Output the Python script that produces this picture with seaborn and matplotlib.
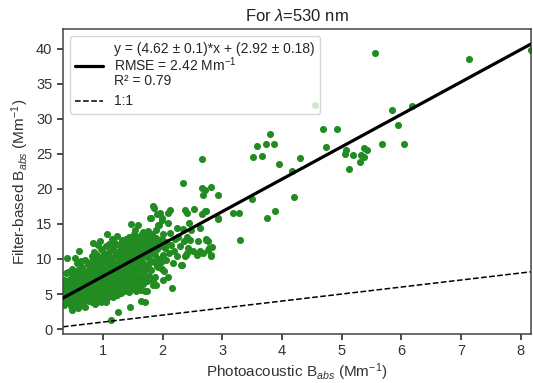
import matplotlib
matplotlib.use("Agg")
import matplotlib.pyplot as plt
import seaborn as sns
import pandas as pd

# ---- data (photoacoustic, filter-based) ----
band_a = [(0.34,3.5),(0.35,4.2),(0.36,5.0),(0.35,5.6),(0.37,6.3),(0.34,7.0),(0.38,8.0),(0.39,10.2),
          (0.36,4.7),(0.40,3.9),(0.41,5.3),(0.42,6.0),(0.41,8.1),(0.43,4.4),(0.44,7.2),(0.45,5.8),
          (0.46,3.3),(0.47,2.75),(0.46,6.6),(0.48,4.9),(0.49,7.7),(0.47,5.2),(0.45,4.0),(0.50,6.2),
          (0.43,6.8),(0.39,4.6),(0.50,3.8),(0.44,5.5),(0.38,5.9),(0.48,8.6)]
band_b = [(0.52,4.3),(0.53,5.0),(0.53,10.2),(0.53,8.1),(0.54,6.1),(0.55,3.6),(0.55,7.0),(0.56,4.8),
          (0.57,5.7),(0.58,6.6),(0.58,8.4),(0.59,11.1),(0.59,4.1),(0.60,3.3),(0.61,5.3),(0.62,7.4),
          (0.62,6.0),(0.63,4.5),(0.64,8.9),(0.64,5.1),(0.65,6.8),(0.66,3.9),(0.66,7.8),(0.67,3.7),
          (0.67,5.6),(0.68,4.6),(0.68,6.3),(0.69,9.9),(0.69,7.1),(0.70,5.0),(0.70,3.2),(0.71,8.2),
          (0.72,4.2),(0.72,6.5),(0.73,5.4),(0.73,7.6),(0.74,9.3),(0.75,4.8),(0.75,6.0),(0.76,7.0),
          (0.76,5.2),(0.77,8.5),(0.77,4.0),(0.78,6.7),(0.78,5.7),(0.79,7.4),(0.79,9.6),(0.80,4.5),
          (0.80,6.2),(0.56,9.4),(0.60,8.0),(0.63,9.7),(0.51,7.3),(0.57,3.0),(0.61,4.7)]
band_c = [(0.81,5.3),(0.81,8.0),(0.82,10.4),(0.82,3.9),(0.83,6.8),(0.83,7.6),(0.84,4.9),(0.84,9.1),
          (0.85,5.9),(0.85,11.0),(0.86,7.2),(0.86,4.3),(0.87,6.3),(0.87,8.6),(0.88,5.5),(0.88,9.8),
          (0.89,7.9),(0.89,4.8),(0.90,6.7),(0.90,10.6),(0.91,5.1),(0.91,8.3),(0.92,7.0),(0.92,12.0),
          (0.93,6.0),(0.93,9.3),(0.94,12.5),(0.94,4.5),(0.95,7.5),(0.95,8.9),(0.96,5.7),(0.96,10.1),
          (0.97,6.5),(0.97,11.4),(0.98,4.2),(0.98,8.1),(0.99,7.3),(0.99,9.6),(1.00,5.2),(1.00,6.8),
          (1.01,10.9),(1.01,8.5),(1.02,4.7),(1.02,7.7),(1.03,6.2),(1.03,9.9),(1.04,5.6),(1.04,11.8),
          (1.05,8.0),(1.05,7.1),(1.06,13.5),(1.06,4.4),(1.07,9.4),(1.07,6.6),(1.08,10.5),(1.08,5.3),
          (1.09,8.7),(1.09,7.4),(1.10,12.2),(1.10,6.0),(0.83,12.3),(0.87,3.6),(0.96,3.9),(1.04,3.8)]
band_d = [(1.11,5.0),(1.11,9.1),(1.12,7.8),(1.12,11.2),(1.13,6.4),(1.13,1.3),(1.14,8.4),(1.14,10.0),
          (1.15,5.7),(1.15,12.8),(1.16,7.1),(1.16,9.6),(1.17,4.6),(1.17,11.5),(1.18,8.0),(1.18,6.7),
          (1.19,10.3),(1.19,5.4),(1.20,7.5),(1.20,12.3),(1.21,9.0),(1.21,6.1),(1.22,10.8),(1.22,8.6),
          (1.23,4.9),(1.23,13.3),(1.24,7.2),(1.24,11.0),(1.25,2.4),(1.25,9.4),(1.26,6.5),(1.26,8.2),
          (1.27,12.0),(1.27,5.6),(1.28,10.1),(1.28,7.7),(1.29,9.7),(1.29,6.9),(1.30,11.6),(1.30,5.1),
          (1.31,8.9),(1.31,12.7),(1.32,7.4),(1.32,10.4),(1.33,6.2),(1.33,9.2),(1.34,11.1),(1.34,8.0),
          (1.35,5.5),(1.35,12.4),(1.36,7.0),(1.36,10.0),(1.37,9.0),(1.37,6.7),(1.38,11.7),(1.38,8.5),
          (1.39,12.9),(1.39,5.9),(1.40,10.6),(1.40,7.6)]
band_e = [(1.41,9.5),(1.41,6.4),(1.42,11.3),(1.42,8.3),(1.43,13.2),(1.43,7.1),(1.44,10.2),(1.44,5.3),
          (1.45,3.2),(1.45,12.1),(1.46,15.0),(1.46,8.9),(1.47,6.8),(1.47,10.9),(1.48,9.6),(1.48,12.6),
          (1.49,7.6),(1.49,5.9),(1.50,11.5),(1.50,8.1),(1.51,13.6),(1.51,10.0),(1.52,6.3),(1.52,9.1),
          (1.53,12.0),(1.53,7.3),(1.54,11.0),(1.54,8.7),(1.55,5.5),(1.55,13.0),(1.56,10.4),(1.56,7.9),
          (1.57,9.3),(1.57,12.4),(1.58,14.9),(1.58,6.7),(1.59,11.3),(1.59,8.4),(1.60,10.7),(1.60,7.0),
          (1.61,12.8),(1.61,9.8),(1.62,5.8),(1.62,11.9),(1.63,8.8),(1.63,13.4),(1.64,4.0),(1.64,10.1),
          (1.65,7.5),(1.65,12.2),(1.66,9.4),(1.66,6.4),(1.67,11.0),(1.67,13.8),(1.68,8.2),(1.68,10.6),
          (1.69,7.2),(1.69,12.6),(1.70,9.0),(1.70,5.4),(1.63,5.6),(1.53,14.2)]
band_f = [(1.70,3.9),(1.71,11.5),(1.72,8.6),(1.72,13.1),(1.73,10.3),(1.74,6.8),(1.74,5.4),(1.75,12.0),
          (1.75,9.2),(1.76,14.0),(1.77,7.6),(1.77,11.0),(1.78,15.8),(1.78,9.9),(1.79,12.7),(1.80,15.8),
          (1.80,8.4),(1.81,10.8),(1.82,13.5),(1.82,7.1),(1.83,11.6),(1.84,6.8),(1.84,6.3),(1.84,17.5),
          (1.85,17.3),(1.85,9.6),(1.86,12.2),(1.87,7.5),(1.87,10.5),(1.88,13.0),(1.89,6.3),(1.89,14.2),
          (1.90,9.0),(1.91,16.4),(1.91,11.4),(1.92,8.9),(1.92,14.9),(1.93,12.6),(1.93,14.9),(1.94,10.0),
          (1.95,16.6),(1.96,11.9),(1.97,9.5),(1.98,15.6),(1.98,8.5),(1.98,15.8),(1.99,12.8),(2.00,13.5),
          (2.00,10.6)]
band_g = [(2.01,7.0),(2.02,8.3),(2.04,11.5),(2.05,12.4),(2.06,9.8),(2.08,16.5),(2.09,15.1),(2.09,7.5),
          (2.10,10.9),(2.12,17.0),(2.12,13.7),(2.14,12.0),(2.16,5.8),(2.17,9.4),(2.18,11.2),(2.20,12.9),
          (2.23,14.4),(2.24,10.4),(2.26,13.2),(2.28,11.9),(2.31,9.2),(2.32,9.2),(2.34,20.8),(2.34,14.3),
          (2.35,12.5),(2.37,10.4),(2.38,17.0),(2.39,10.5),(2.40,16.5),(2.40,10.8),(2.41,13.2),(2.43,11.6),
          (2.44,15.1),(2.45,12.7)]
band_h = [(2.48,14.1),(2.51,11.1),(2.53,17.1),(2.57,10.5),(2.59,12.5),(2.61,10.8),(2.62,11.2),(2.62,14.4),
          (2.65,16.4),(2.65,24.2),(2.66,20.1),(2.67,19.1),(2.68,10.8),(2.70,19.8),(2.71,16.8),(2.72,16.9),
          (2.73,12.9),(2.73,12.7),(2.75,12.6),(2.76,11.3),(2.77,11.6),(2.80,20.2),(2.80,10.4),(2.81,10.5),
          (2.82,11.7),(2.93,19.1),(2.93,15.7),(2.92,15.8)]
band_high = [(3.17,16.6),(3.27,16.5),(3.29,12.7),(3.50,18.6),(3.51,24.5),(3.58,26.1),(3.66,24.7),
             (3.73,26.4),(3.74,15.9),(3.79,27.9),(3.87,26.4),(3.88,16.8),(3.94,23.6),(4.17,22.6),
             (4.20,18.8),(4.30,24.4),(4.55,32.0),(4.69,28.6),(4.73,26.0),(4.92,28.6),(5.05,25.0),
             (5.07,25.5),(5.12,22.9),(5.18,24.9),(5.31,23.8),(5.33,24.9),(5.37,24.5),(5.38,25.8),
             (5.43,25.5),(5.55,39.4),(5.68,26.4),(5.85,31.2),(5.94,29.1),(6.05,26.4),(6.18,31.9),
             (7.13,38.5),(8.17,39.8)]

fit_slope = 4.62
fit_intercept = 2.92
fit_label = ("y = (4.62 ± 0.1)*x + (2.92 ± 0.18)\n"
             "RMSE = 2.42 Mm$^{-1}$\n"
             "R² = 0.79")
one_to_one_label = "1:1"
title = "For $\\lambda$=530 nm"
xlabel = "Photoacoustic B$_{abs}$ (Mm$^{-1}$)"
ylabel = "Filter-based B$_{abs}$ (Mm$^{-1}$)"
x_ticks = [1, 2, 3, 4, 5, 6, 7, 8]
y_ticks = [0, 5, 10, 15, 20, 25, 30, 35, 40]

all_pts = band_a + band_b + band_c + band_d + band_e + band_f + band_g + band_h + band_high
df = pd.DataFrame(all_pts, columns=["pa", "fb"])

sns.set_theme(style="ticks")
plt.rcParams["font.family"] = ["Liberation Sans", "DejaVu Sans"]
plt.rcParams["mathtext.fontset"] = "custom"
plt.rcParams["mathtext.rm"] = "Liberation Sans"
plt.rcParams["mathtext.it"] = "Liberation Sans:italic"
plt.rcParams["mathtext.bf"] = "Liberation Sans:bold"

fig = plt.figure(figsize=(5.33, 3.83), dpi=100)
ax = fig.add_axes([0.118, 0.128, 0.878, 0.796])

sns.scatterplot(data=df, x="pa", y="fb", color="forestgreen", s=26, linewidth=0,
                alpha=1.0, ax=ax, legend=False, zorder=1)
ax.axline((0, fit_intercept), slope=fit_slope, color="black", lw=2.3, label=fit_label, zorder=3)
ax.axline((0, 0), slope=1, color="black", lw=1.1, ls="--", label=one_to_one_label, zorder=2)

ax.set_xlim(0.325, 8.17)
ax.set_ylim(-0.7, 42.8)
ax.set_xticks(x_ticks)
ax.set_yticks(y_ticks)
ax.tick_params(labelsize=10.5, colors="#333333", length=4)
for s in ax.spines.values():
    s.set_color("#444444")
    s.set_linewidth(1.1)
ax.set_xlabel(xlabel, fontsize=11, color="#333333", labelpad=2)
ax.set_ylabel(ylabel, fontsize=11, color="#333333")
ax.set_title(title, fontsize=12, color="#222222")
leg = ax.legend(loc="upper left", fontsize=10, frameon=True, framealpha=0.8,
                handlelength=2.0, labelspacing=0.45, borderpad=0.4)
for t in leg.get_texts():
    t.set_linespacing(1.0)

fig.savefig("out.png", dpi=100)
